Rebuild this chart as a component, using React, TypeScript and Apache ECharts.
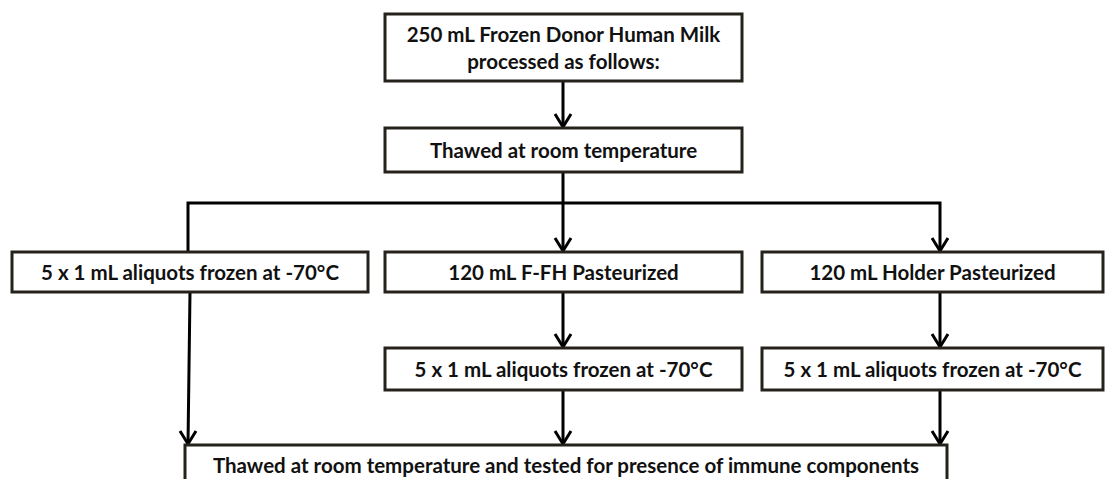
import React, { useEffect, useRef } from "react";
import * as echarts from "echarts";

// Box labels (node texts)
const labels: string[] = [
  "250 mL Frozen Donor Human Milk\nprocessed as follows:",
  "Thawed at room temperature",
  "5 x 1 mL aliquots frozen at -70°C",
  "120 mL F-FH Pasteurized",
  "120 mL Holder Pasteurized",
  "5 x 1 mL aliquots frozen at -70°C",
  "5 x 1 mL aliquots frozen at -70°C",
  "Thawed at room temperature and tested for presence of immune components",
];

// Box layout [x, y, width, height] in pixels
const boxX: number[] = [385, 385, 12, 385, 762, 385, 762, 185];
const boxY: number[] = [14, 128, 252, 252, 252, 348, 348, 445];
const boxW: number[] = [357, 357, 356, 357, 341, 357, 341, 762];
const boxH: number[] = [67, 44, 40, 40, 40, 42, 42, 50];

// Connectors: polylines; arrow=true puts arrowhead at last point
const connectors: { pts: number[][]; arrow: boolean }[] = [
  { pts: [[563, 81], [563, 127]], arrow: true },
  { pts: [[563, 172], [563, 203]], arrow: false },
  { pts: [[188, 251], [188, 203], [940, 203], [940, 251]], arrow: true },
  { pts: [[563, 203], [563, 251]], arrow: true },
  { pts: [[563, 292], [563, 347]], arrow: true },
  { pts: [[940, 292], [940, 347]], arrow: true },
  { pts: [[190, 292], [188, 444]], arrow: true },
  { pts: [[563, 390], [563, 444]], arrow: true },
  { pts: [[940, 390], [940, 444]], arrow: true },
];

const FONT = "Lato";
const FONT_SIZE = 20.5;

export default function App() {
  const ref = useRef<HTMLDivElement>(null);
  useEffect(() => {
    document.body.style.margin = "0";
    if (!ref.current) return;
    const chart = echarts.init(ref.current, undefined, { renderer: "svg" });
    const elements: any[] = [];
    connectors.forEach((c) => {
      elements.push({
        type: "polyline",
        shape: { points: c.pts },
        style: { stroke: "#000", lineWidth: 3, fill: null },
        z: 1,
      });
      if (c.arrow) {
        const [x, y] = c.pts[c.pts.length - 1];
        elements.push({
          type: "polyline",
          shape: { points: [[x - 8, y - 13], [x, y], [x + 8, y - 13]] },
          style: { stroke: "#000", lineWidth: 3, fill: null },
          z: 1,
        });
      }
    });
    labels.forEach((lab, i) => {
      elements.push({
        type: "rect",
        shape: { x: boxX[i], y: boxY[i], width: boxW[i], height: boxH[i] },
        style: { fill: "#fff", stroke: "#25221c", lineWidth: 3 },
        z: 2,
      });
      const cy = i === 7 ? boxY[i] + 20 : boxY[i] + boxH[i] / 2;
      elements.push({
        type: "text",
        x: boxX[i] + boxW[i] / 2,
        y: cy,
        style: {
          text: lab,
          fill: "#111",
          font: `bold ${FONT_SIZE}px ${FONT}`,
          fontFamily: FONT,
          fontSize: FONT_SIZE,
          fontWeight: "bold",
          align: "center",
          verticalAlign: "middle",
          lineHeight: 27,
        },
        z: 3,
      });
    });
    chart.setOption({
      animation: false,
      backgroundColor: "#fff",
      graphic: { elements },
    });
    return () => chart.dispose();
  }, []);
  return <div ref={ref} style={{ width: 1105, height: 479 }} />;
}
